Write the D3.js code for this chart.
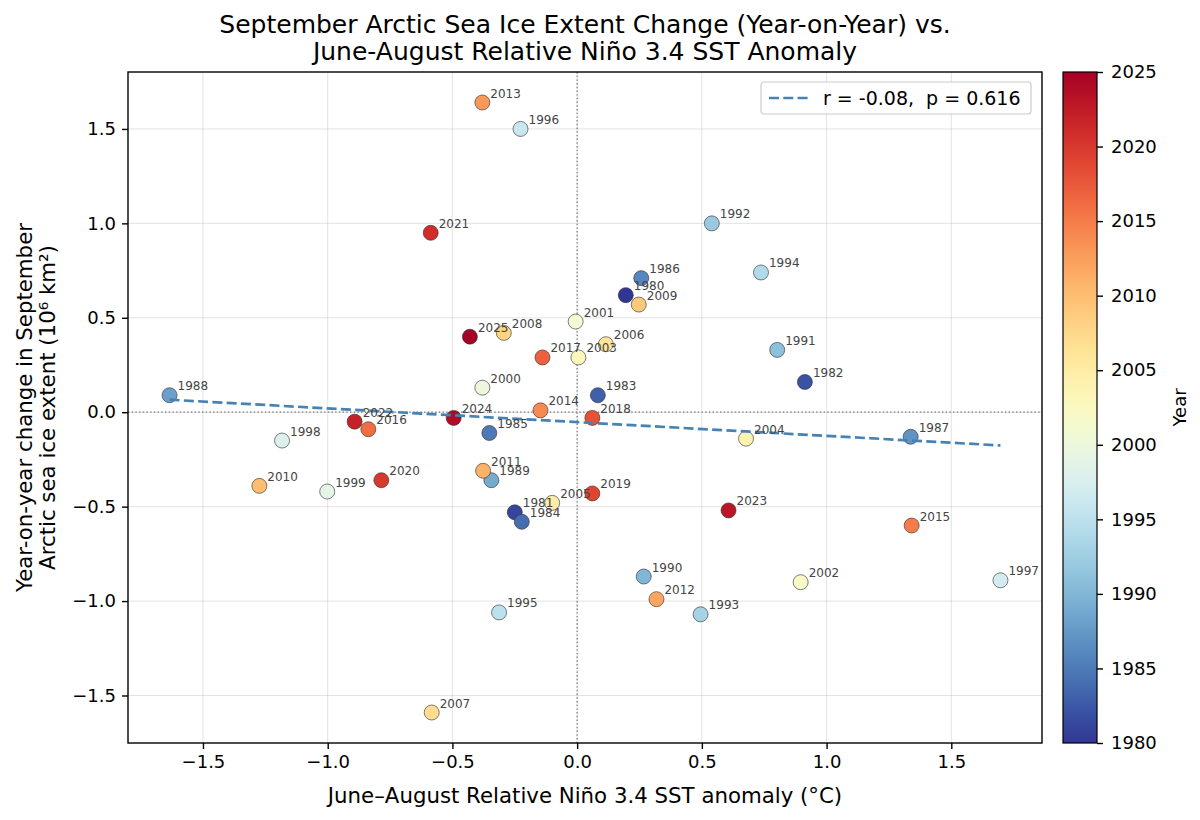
<!DOCTYPE html>
<html>
<head>
<meta charset="utf-8">
<script src="https://cdn.jsdelivr.net/npm/d3@7"></script>
<style>
  body { margin: 0; background: #fff; }
  svg { font-family: "DejaVu Sans", sans-serif; }
</style>
</head>
<body>
<svg id="chart" width="1200" height="820"></svg>
<script>
// year of each point
const years = [1980, 1981, 1982, 1983, 1984, 1985, 1986, 1987, 1988, 1989,
    1990, 1991, 1992, 1993, 1994, 1995, 1996, 1997, 1998, 1999,
    2000, 2001, 2002, 2003, 2004, 2005, 2006, 2007, 2008, 2009,
    2010, 2011, 2012, 2013, 2014, 2015, 2016, 2017, 2018, 2019,
    2020, 2021, 2022, 2023, 2024, 2025];
// June-August relative Nino 3.4 anomaly (degC)
const sstAnom = [0.195, -0.25, 0.913, 0.083, -0.222, -0.352, 0.257, 1.337, -1.634, -0.344,
    0.267, 0.802, 0.54, 0.495, 0.737, -0.313, -0.227, 1.697, -1.183, -1.002,
    -0.38, -0.006, 0.896, 0.005, 0.677, -0.10, 0.115, -0.583, -0.294, 0.247,
    -1.274, -0.377, 0.318, -0.38, -0.147, 1.341, -0.837, -0.139, 0.061, 0.061,
    -0.785, -0.587, -0.892, 0.607, -0.495, -0.43];
// year-on-year change of september extent (10^6 km2)
const iceChange = [0.62, -0.53, 0.16, 0.09, -0.58, -0.11, 0.71, -0.13, 0.09, -0.36,
    -0.87, 0.33, 1.00, -1.07, 0.74, -1.06, 1.50, -0.89, -0.15, -0.42,
    0.13, 0.48, -0.90, 0.29, -0.14, -0.48, 0.36, -1.59, 0.42, 0.57,
    -0.39, -0.31, -0.99, 1.64, 0.01, -0.60, -0.09, 0.29, -0.03, -0.43,
    -0.36, 0.95, -0.05, -0.52, -0.03, 0.40];
const xTicks = [-1.5, -1.0, -0.5, 0.0, 0.5, 1.0, 1.5];
const yTicks = [-1.5, -1.0, -0.5, 0.0, 0.5, 1.0, 1.5];
const cbTicks = [1980, 1985, 1990, 1995, 2000, 2005, 2010, 2015, 2020, 2025];
const legendText = "r = -0.08,  p = 0.616";

const svg = d3.select("#chart");
const pLeft = 128, pRight = 1042, pTop = 72, pBottom = 743;

let points = years.map((yr, i) => ({year: yr, x: sstAnom[i], y: iceChange[i]}));

// matplotlib style 5% margins
function padded(vals) {
    let [a, b] = d3.extent(vals);
    let m = (b - a) * 0.05;
    return [a - m, b + m];
}
const x = d3.scaleLinear().domain(padded(sstAnom)).range([pLeft, pRight]);
const y = d3.scaleLinear().domain(padded(iceChange)).range([pBottom, pTop]);
const color = d3.scaleSequential(t => d3.interpolateRdYlBu(1 - t)).domain([1980, 2025]);

const fmt = d => d3.format(".1f")(d).replace("-", "\u2212");

// grid
let grid = svg.append("g");
grid.selectAll(".gx").data(xTicks).join("line")
    .attr("x1", d => x(d)).attr("x2", d => x(d))
    .attr("y1", pTop).attr("y2", pBottom)
    .attr("stroke", "#b0b0b0").attr("stroke-opacity", 0.35).attr("stroke-width", 1);
grid.selectAll(".gy").data(yTicks).join("line")
    .attr("y1", d => y(d)).attr("y2", d => y(d))
    .attr("x1", pLeft).attr("x2", pRight)
    .attr("stroke", "#b0b0b0").attr("stroke-opacity", 0.35).attr("stroke-width", 1);

// zero lines
svg.append("line").attr("x1", x(0)).attr("x2", x(0)).attr("y1", pTop).attr("y2", pBottom)
    .attr("stroke", "#777").attr("stroke-width", 1.2).attr("stroke-dasharray", "1.4,2.3");
svg.append("line").attr("x1", pLeft).attr("x2", pRight).attr("y1", y(0)).attr("y2", y(0))
    .attr("stroke", "#777").attr("stroke-width", 1.2).attr("stroke-dasharray", "1.4,2.3");

// points
svg.append("g").selectAll("circle").data(points).join("circle")
    .attr("cx", d => x(d.x)).attr("cy", d => y(d.y)).attr("r", 7.5)
    .attr("fill", d => color(d.year))
    .attr("stroke", "#333").attr("stroke-opacity", 0.7).attr("stroke-width", 0.9);

// least squares fit
let mx = d3.mean(sstAnom), my = d3.mean(iceChange);
let sxy = d3.sum(points, d => (d.x - mx) * (d.y - my));
let sxx = d3.sum(points, d => (d.x - mx) ** 2);
let slope = sxy / sxx, icpt = my - slope * mx;
let xr = d3.extent(sstAnom);
svg.append("path")
    .datum(xr.map(v => [v, icpt + slope * v]))
    .attr("d", d3.line().x(d => x(d[0])).y(d => y(d[1])))
    .attr("fill", "none").attr("stroke", "#4682b4").attr("stroke-width", 2.7)
    .attr("stroke-dasharray", "10,4.3");

// year labels
svg.append("g").selectAll("text").data(points).join("text")
    .attr("x", d => x(d.x) + 8).attr("y", d => y(d.y) - 5)
    .attr("font-size", 12).attr("fill", "#444")
    .text(d => d.year);

// frame
svg.append("rect").attr("x", pLeft).attr("y", pTop)
    .attr("width", pRight - pLeft).attr("height", pBottom - pTop)
    .attr("fill", "none").attr("stroke", "#000").attr("stroke-width", 1.4);

// axes
let xAxis = svg.append("g").attr("transform", `translate(0,${pBottom})`)
    .call(d3.axisBottom(x).tickValues(xTicks).tickFormat(fmt).tickSize(6).tickPadding(6));
let yAxis = svg.append("g").attr("transform", `translate(${pLeft},0)`)
    .call(d3.axisLeft(y).tickValues(yTicks).tickFormat(fmt).tickSize(6).tickPadding(6));
[xAxis, yAxis].forEach(a => {
    a.select(".domain").remove();
    a.selectAll("line").attr("stroke", "#000").attr("stroke-width", 1.4);
    a.selectAll("text").attr("font-size", 18).attr("fill", "#000")
        .attr("font-family", "DejaVu Sans");
});

// titles
let title = svg.append("text").attr("text-anchor", "middle").attr("font-size", 25);
title.append("tspan").attr("x", (pLeft + pRight) / 2).attr("y", 33)
    .text("September Arctic Sea Ice Extent Change (Year-on-Year) vs.");
title.append("tspan").attr("x", (pLeft + pRight) / 2).attr("y", 60)
    .text("June-August Relative Niño 3.4 SST Anomaly");

svg.append("text").attr("x", (pLeft + pRight) / 2).attr("y", 803)
    .attr("text-anchor", "middle").attr("font-size", 21.3)
    .text("June–August Relative Niño 3.4 SST anomaly (°C)");

let ylab = svg.append("text").attr("text-anchor", "middle").attr("font-size", 21.3)
    .attr("transform", `translate(0,${(pTop + pBottom) / 2}) rotate(-90)`);
ylab.append("tspan").attr("x", 0).attr("y", 32).text("Year-on-year change in September");
ylab.append("tspan").attr("x", 0).attr("y", 55).text("Arctic sea ice extent (10⁶ km²)");

// legend
let lg = svg.append("g").attr("transform", "translate(761,82)");
lg.append("rect").attr("width", 270).attr("height", 32).attr("rx", 3)
    .attr("fill", "#fff").attr("fill-opacity", 0.8)
    .attr("stroke", "#ccc").attr("stroke-width", 1.2);
lg.append("line").attr("x1", 8).attr("x2", 47).attr("y1", 16).attr("y2", 16)
    .attr("stroke", "#4682b4").attr("stroke-width", 2.7).attr("stroke-dasharray", "10,4.3");
lg.append("text").attr("x", 62).attr("y", 23).attr("font-size", 19)
    .style("white-space", "pre").text(legendText);

// colorbar
const cbx = 1063, cbw = 34;
let defs = svg.append("defs");
let grad = defs.append("linearGradient").attr("id", "cbgrad")
    .attr("x1", 0).attr("x2", 0).attr("y1", 1).attr("y2", 0);
d3.range(0, 1.0001, 0.02).forEach(t => {
    grad.append("stop").attr("offset", t).attr("stop-color", d3.interpolateRdYlBu(1 - t));
});
svg.append("rect").attr("x", cbx).attr("y", pTop).attr("width", cbw).attr("height", pBottom - pTop)
    .attr("fill", "url(#cbgrad)").attr("stroke", "#000").attr("stroke-width", 1.2);
const cy = d3.scaleLinear().domain([1980, 2025]).range([pBottom, pTop]);
let cbAxis = svg.append("g").attr("transform", `translate(${cbx + cbw},0)`)
    .call(d3.axisRight(cy).tickValues(cbTicks).tickFormat(d3.format("d")).tickSize(6).tickPadding(8));
cbAxis.select(".domain").remove();
cbAxis.selectAll("line").attr("stroke", "#000").attr("stroke-width", 1.4);
cbAxis.selectAll("text").attr("font-size", 18).attr("fill", "#000").attr("font-family", "DejaVu Sans");
svg.append("text").attr("text-anchor", "middle").attr("font-size", 18)
    .attr("transform", `translate(1186,${(pTop + pBottom) / 2}) rotate(-90)`)
    .text("Year");
</script>
</body>
</html>
